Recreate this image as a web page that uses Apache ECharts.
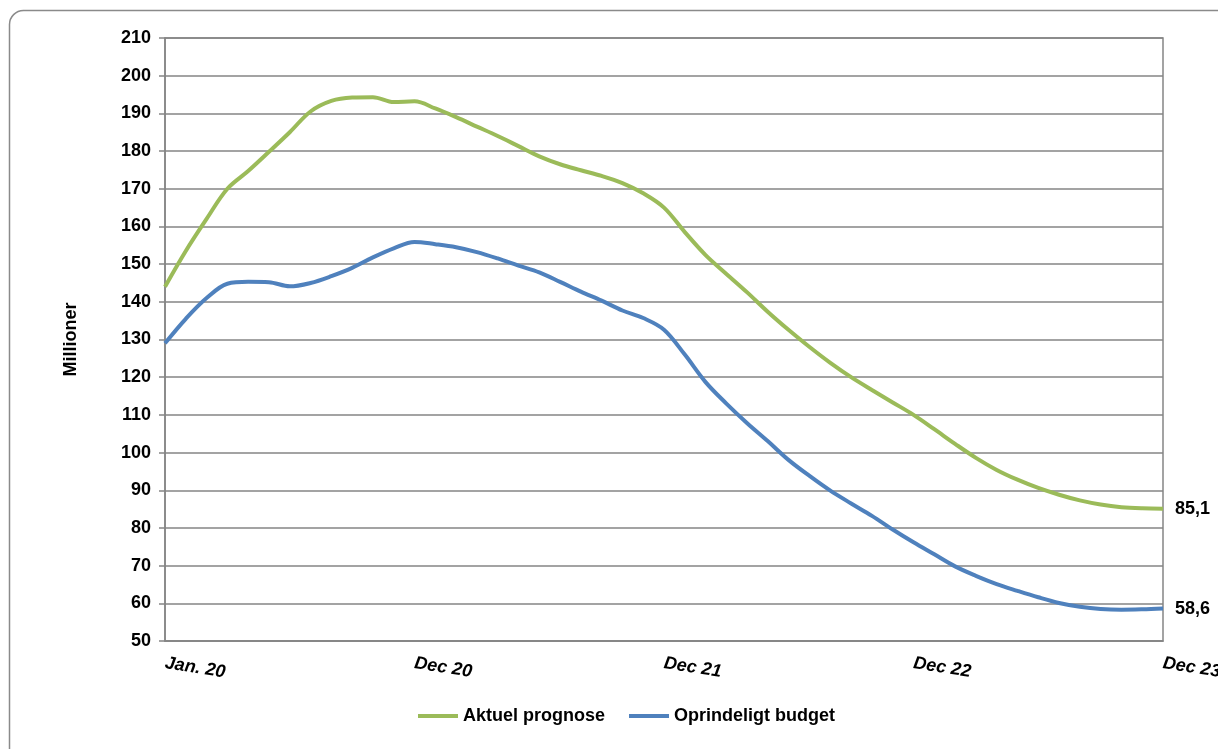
<!DOCTYPE html>
<html>
<head>
<meta charset="utf-8">
<title>Prognose og budget</title>
<script src="https://cdn.jsdelivr.net/npm/echarts@6/dist/echarts.min.js"></script>
<style>
  html, body { margin: 0; padding: 0; background: #ffffff; }
  #chart { width: 1218px; height: 749px; }
</style>
</head>
<body>
<div id="chart"></div>
<script>
// Monthly values, Millioner (48 months from Jan. 20 to Dec 23)
const aktuelPrognose = [
  144.0, 153.5, 162.0, 170.0, 174.7, 179.8, 185.0, 190.5, 193.3, 194.2,
  194.3, 193.0, 193.2, 191.3, 189.0, 186.5, 184.0, 181.3, 178.6, 176.5,
  174.9, 173.4, 171.5, 168.8, 165.0, 158.5, 152.4, 147.4, 142.5, 137.3,
  132.5, 128.0, 123.8, 120.0, 116.6, 113.3, 110.0, 106.2, 102.3, 98.6,
  95.4, 92.8, 90.6, 88.8, 87.3, 86.2, 85.5, 85.2, 85.1
];
const oprindeligtBudget = [
  129.0, 135.5, 141.0, 144.8, 145.3, 145.2, 144.1, 145.0, 146.8, 149.0,
  151.8, 154.2, 155.9, 155.3, 154.5, 153.2, 151.5, 149.6, 147.8, 145.3,
  142.7, 140.3, 137.7, 135.7, 132.6, 126.0, 118.7, 113.0, 107.8, 103.0,
  98.0, 93.8, 89.9, 86.5, 83.2, 79.6, 76.2, 73.0, 69.8, 67.3,
  65.1, 63.3, 61.6, 60.1, 59.1, 58.5, 58.3, 58.4, 58.6
];
// Tick labels, one for every 12 months
const xTickLabels = ['Jan. 20', 'Dec 20', 'Dec 21', 'Dec 22', 'Dec 23'];
const seriesNames = ['Aktuel prognose', 'Oprindeligt budget'];

const FONT = '"Liberation Sans", Arial, sans-serif';
const FONT_SIZE = 18;
const GRID_COLOR = '#858585';

const toPairs = arr => arr.map((v, i) => [i, v]);
const fmtComma = v => v.toFixed(1).replace('.', ',');

const chart = echarts.init(document.getElementById('chart'), null, { renderer: 'canvas' });

const endLabel = {
  show: true,
  distance: 12,
  formatter: p => fmtComma(p.value[1]),
  fontFamily: FONT, fontSize: FONT_SIZE, fontWeight: 'bold', color: '#000'
};

chart.setOption({
  backgroundColor: '#ffffff',
  animation: false,
  textStyle: { fontFamily: FONT },
  graphic: [{
    type: 'rect',
    left: 7, top: 8,
    shape: { width: 1240, height: 770, r: 14 },
    style: { fill: 'none', stroke: '#8a8a8a', lineWidth: 1.5 },
    silent: true,
    z: -1
  }],
  grid: {
    left: 165, right: 55, top: 38, bottom: 108,
    containLabel: false,
    outerBoundsMode: 'none',
    show: true,
    borderColor: GRID_COLOR,
    borderWidth: 1.5,
    backgroundColor: 'transparent'
  },
  legend: {
    left: 413, top: 702,
    itemWidth: 40, itemHeight: 4, itemGap: 24,
    icon: 'rect',
    textStyle: { fontFamily: FONT, fontSize: FONT_SIZE, fontWeight: 'bold', color: '#000' },
    data: seriesNames
  },
  xAxis: {
    type: 'value',
    min: 0, max: 48, interval: 12,
    axisLine: { show: true, lineStyle: { color: GRID_COLOR, width: 1.5 } },
    axisTick: { show: false },
    splitLine: { show: false },
    axisLabel: {
      formatter: v => xTickLabels[v / 12] ?? '',
      rotate: -9,
      margin: 22,
      fontFamily: FONT, fontSize: FONT_SIZE, fontWeight: 'bold', fontStyle: 'italic',
      color: '#000'
    }
  },
  yAxis: {
    type: 'value',
    min: 50, max: 210, interval: 10,
    name: 'Millioner',
    nameLocation: 'middle',
    nameGap: 85,
    nameRotate: 90,
    nameTextStyle: { fontFamily: FONT, fontSize: FONT_SIZE, fontWeight: 'bold', color: '#000' },
    axisLine: { show: true, lineStyle: { color: GRID_COLOR, width: 1.5 } },
    axisTick: { show: true, inside: false, length: 6, lineStyle: { color: GRID_COLOR, width: 1.5 } },
    splitLine: { show: true, lineStyle: { color: GRID_COLOR, width: 1.5 } },
    axisLabel: {
      margin: 14,
      fontFamily: FONT, fontSize: FONT_SIZE, fontWeight: 'bold', color: '#000'
    }
  },
  series: [
    {
      name: seriesNames[0],
      type: 'line',
      data: toPairs(aktuelPrognose),
      smooth: 0.35,
      showSymbol: false,
      symbol: 'none',
      color: '#9BBB59',
      lineStyle: { width: 4, color: '#9BBB59' },
      endLabel: endLabel,
      z: 3
    },
    {
      name: seriesNames[1],
      type: 'line',
      data: toPairs(oprindeligtBudget),
      smooth: 0.35,
      showSymbol: false,
      symbol: 'none',
      color: '#4F81BD',
      lineStyle: { width: 4, color: '#4F81BD' },
      endLabel: endLabel,
      z: 3
    }
  ]
});
</script>
</body>
</html>
